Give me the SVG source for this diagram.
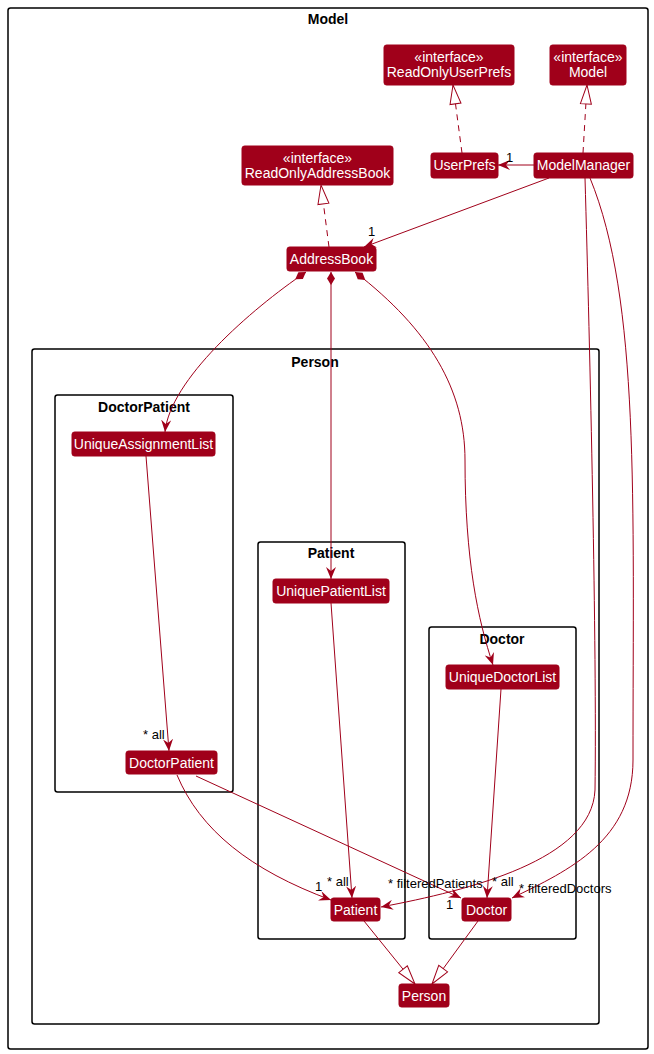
<svg xmlns="http://www.w3.org/2000/svg" width="654" height="1054" viewBox="0 0 654 1054">
<style>
.frame{fill:none;stroke:#000;stroke-width:1.5}
.ftitle{font-family:"Liberation Sans",Arial,sans-serif;font-size:14px;font-weight:bold;fill:#000;text-anchor:middle}
.node rect{fill:#A0001A;stroke:#A0001A}
.node text{font-family:"Liberation Sans",Arial,sans-serif;font-size:14px;fill:#fff;text-anchor:middle}
.edge{fill:none;stroke:#A0001A;stroke-width:1}
.dash{stroke-dasharray:6 5}
.lbl{font-family:"Liberation Sans",Arial,sans-serif;font-size:13px;fill:#000}
</style>
<defs>
<marker id="arr" viewBox="0 0 12 10" refX="12" refY="5" markerWidth="12" markerHeight="10" orient="auto" markerUnits="userSpaceOnUse"><path d="M0,0 L12,5 L0,10 L4,5 Z" fill="#A0001A"/></marker>
<marker id="tri" viewBox="0 0 21 13" refX="20" refY="6.5" markerWidth="21" markerHeight="13" orient="auto" markerUnits="userSpaceOnUse"><path d="M1,1 L20,6.5 L1,12 Z" fill="#fff" stroke="#A0001A"/></marker>
<marker id="dia" viewBox="0 0 13 9" refX="0" refY="4.5" markerWidth="13" markerHeight="9" orient="auto" markerUnits="userSpaceOnUse"><path d="M0,4.5 L6.5,0.5 L13,4.5 L6.5,8.5 Z" fill="#A0001A"/></marker>
</defs>

<g id="frames">
<rect class="frame" x="8" y="8" width="640" height="1041" rx="2.5"/>
<text class="ftitle" x="328" y="24">Model</text>
<rect class="frame" x="32" y="349" width="567" height="675" rx="2.5"/>
<text class="ftitle" x="315" y="367">Person</text>
<rect class="frame" x="55" y="395" width="178" height="397" rx="2.5"/>
<text class="ftitle" x="144" y="412">DoctorPatient</text>
<rect class="frame" x="258" y="542" width="147" height="397" rx="2.5"/>
<text class="ftitle" x="331" y="558">Patient</text>
<rect class="frame" x="429" y="627" width="147" height="312" rx="2.5"/>
<text class="ftitle" x="502" y="644">Doctor</text>
</g>

<g id="connectors">
<path class="edge dash" d="M462,153 L453,85" marker-end="url(#tri)"/>
<path class="edge dash" d="M583,153 L587,85" marker-end="url(#tri)"/>
<path class="edge dash" d="M329,247 L321,185" marker-end="url(#tri)"/>
<path class="edge" d="M534,165 L498,165" marker-end="url(#arr)"/>
<path class="edge" d="M549,178 L364,247" marker-end="url(#arr)"/>
<path class="edge" d="M585,178 C590,350 597,650 595,790 C592,860 470,890 381,907" marker-end="url(#arr)"/>
<path class="edge" d="M590,178 C640,300 633,500 633,760 C633,840 570,870 512,898" marker-end="url(#arr)"/>
<path class="edge" d="M306,272 C250,310 170,380 165,432" marker-start="url(#dia)" marker-end="url(#arr)"/>
<path class="edge" d="M331,272 L331,579" marker-start="url(#dia)" marker-end="url(#arr)"/>
<path class="edge" d="M355,272 C430,330 465,390 465,460 C465,560 478,620 493,665" marker-start="url(#dia)" marker-end="url(#arr)"/>
<path class="edge" d="M146,456 L169,751" marker-end="url(#arr)"/>
<path class="edge" d="M331,603 L352,898" marker-end="url(#arr)"/>
<path class="edge" d="M501,689 L487,898" marker-end="url(#arr)"/>
<path class="edge" d="M177,775 C200,830 250,870 331,900" marker-end="url(#arr)"/>
<path class="edge" d="M196,776 L461,898" marker-end="url(#arr)"/>
<path class="edge" d="M364,921 L415,984" marker-end="url(#tri)"/>
<path class="edge" d="M478,921 L432,984" marker-end="url(#tri)"/>
<text class="lbl" x="506" y="162">1</text>
<text class="lbl" x="368" y="236">1</text>
<text class="lbl" x="143" y="739">* all</text>
<text class="lbl" x="315" y="891">1</text>
<text class="lbl" x="327" y="886">* all</text>
<text class="lbl" x="388" y="888">* filteredPatients</text>
<text class="lbl" x="492" y="886">* all</text>
<text class="lbl" x="519" y="893">* filteredDoctors</text>
<text class="lbl" x="446" y="909">1</text>
</g>

<g id="ReadOnlyUserPrefs" class="node"><rect x="384" y="45" width="130" height="40" rx="2.5"/><text x="449" y="62">«interface»</text><text x="449" y="77">ReadOnlyUserPrefs</text></g>
<g id="ModelInterface" class="node"><rect x="550" y="45" width="76" height="40" rx="2.5"/><text x="588" y="62">«interface»</text><text x="588" y="77">Model</text></g>
<g id="ReadOnlyAddressBook" class="node"><rect x="242" y="146" width="151" height="39" rx="2.5"/><text x="317.5" y="163">«interface»</text><text x="317.5" y="178">ReadOnlyAddressBook</text></g>
<g id="UserPrefs" class="node"><rect x="431" y="153" width="67" height="25" rx="2.5"/><text x="464.5" y="170">UserPrefs</text></g>
<g id="ModelManager" class="node"><rect x="534" y="153" width="99" height="25" rx="2.5"/><text x="583.5" y="170">ModelManager</text></g>
<g id="AddressBook" class="node"><rect x="287" y="247" width="89" height="24" rx="2.5"/><text x="331.5" y="264">AddressBook</text></g>
<g id="UniqueAssignmentList" class="node"><rect x="72" y="432" width="143" height="24" rx="2.5"/><text x="143.5" y="449">UniqueAssignmentList</text></g>
<g id="UniquePatientList" class="node"><rect x="273" y="579" width="116" height="24" rx="2.5"/><text x="331" y="596">UniquePatientList</text></g>
<g id="UniqueDoctorList" class="node"><rect x="446" y="665" width="113" height="24" rx="2.5"/><text x="502.5" y="682">UniqueDoctorList</text></g>
<g id="DoctorPatient" class="node"><rect x="126" y="751" width="91" height="23" rx="2.5"/><text x="171.5" y="768">DoctorPatient</text></g>
<g id="Patient" class="node"><rect x="331" y="898" width="49" height="23" rx="2.5"/><text x="355.5" y="915">Patient</text></g>
<g id="Doctor" class="node"><rect x="462" y="898" width="49" height="23" rx="2.5"/><text x="486.5" y="915">Doctor</text></g>
<g id="Person" class="node"><rect x="399" y="984" width="50" height="23" rx="2.5"/><text x="424" y="1001">Person</text></g>
</svg>
